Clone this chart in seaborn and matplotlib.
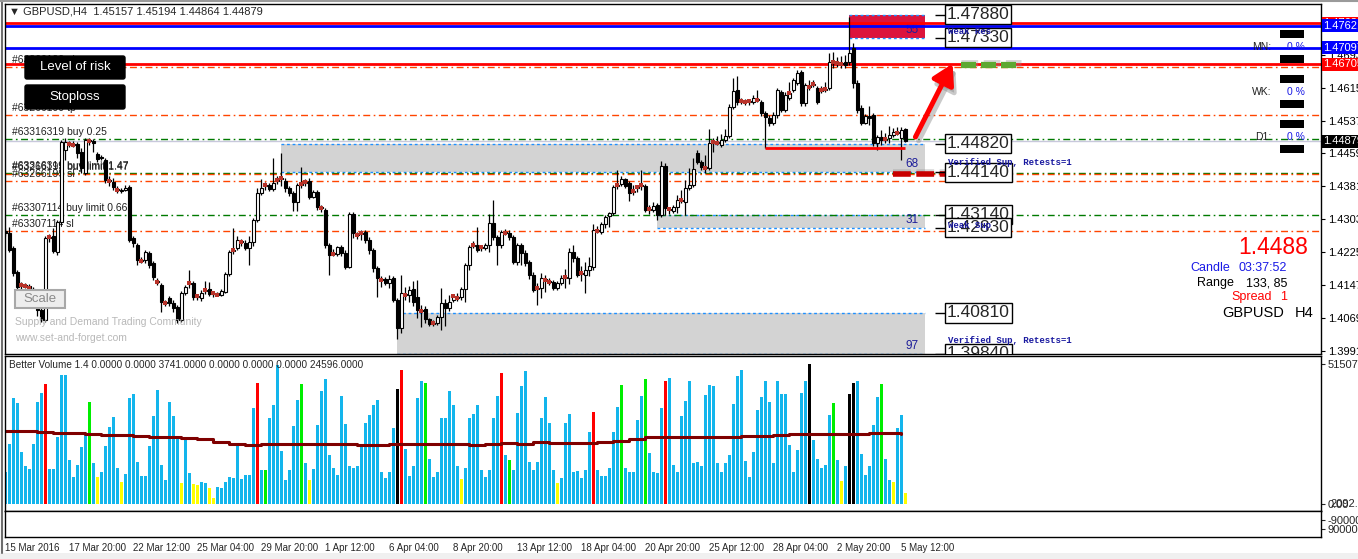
import numpy as np
import pandas as pd
import matplotlib
matplotlib.use("Agg")
import matplotlib.pyplot as plt
import matplotlib.transforms as mtransforms
from matplotlib.patches import Rectangle, FancyBboxPatch
import seaborn as sns

# GBPUSD H4 candles, prices in pips (price * 10000)
opens = [14275, 14271, 14235, 14178, 14145, 14147, 14145, 14138, 14112, 14088,
         14064, 14259, 14264, 14226, 14297, 14467, 14484, 14482, 14482, 14463,
         14413, 14491, 14489, 14458, 14451, 14444, 14396, 14392, 14375, 14370,
         14372, 14380, 14259, 14242, 14207, 14207, 14223, 14200, 14157, 14147,
         14107, 14117, 14105, 14095, 14064, 14128, 14150, 14152, 14119, 14117,
         14133, 14138, 14126, 14128, 14124, 14131, 14173, 14228, 14235, 14252,
         14247, 14235, 14249, 14301, 14365, 14382, 14384, 14375, 14394, 14399,
         14394, 14377, 14365, 14344, 14384, 14389, 14394, 14356, 14368, 14332,
         14325, 14242, 14223, 14221, 14237, 14223, 14190, 14316, 14268, 14268,
         14273, 14254, 14230, 14188, 14162, 14162, 14152, 14164, 14112, 14045,
         14126, 14124, 14138, 14119, 14088, 14090, 14067, 14055, 14057, 14072,
         14105, 14093, 14112, 14119, 14119, 14138, 14195, 14240, 14242, 14235,
         14235, 14242, 14294, 14261, 14242, 14273, 14271, 14261, 14202, 14242,
         14223, 14202, 14171, 14138, 14140, 14162, 14157, 14155, 14140, 14152,
         14164, 14164, 14226, 14211, 14173, 14171, 14183, 14190, 14278, 14273,
         14292, 14311, 14318, 14382, 14387, 14399, 14389, 14368, 14377, 14382,
         14382, 14325, 14325, 14337, 14313, 14429, 14325, 14323, 14332, 14346,
         14344, 14377, 14384, 14460, 14439, 14427, 14425, 14484, 14486, 14479,
         14491, 14500, 14569, 14610, 14581, 14583, 14581, 14581, 14588, 14581,
         14555, 14543, 14531, 14550, 14605, 14562, 14591, 14610, 14626, 14652,
         14579, 14619, 14621, 14614, 14607, 14610, 14614, 14674, 14676, 14674,
         14676, 14676, 14709, 14626, 14567, 14531, 14548, 14550, 14484, 14498,
         14491, 14496, 14503, 14510, 14496, 14516]
highs = [14282, 14285, 14240, 14183, 14155, 14152, 14150, 14143, 14117, 14100,
         14264, 14268, 14282, 14301, 14491, 14496, 14489, 14489, 14486, 14472,
         14496, 14496, 14493, 14463, 14455, 14448, 14406, 14401, 14382, 14377,
         14384, 14384, 14264, 14247, 14214, 14230, 14228, 14204, 14164, 14152,
         14112, 14121, 14112, 14100, 14133, 14147, 14183, 14157, 14124, 14136,
         14157, 14155, 14133, 14131, 14138, 14178, 14230, 14282, 14264, 14256,
         14254, 14264, 14306, 14377, 14399, 14392, 14389, 14448, 14406, 14460,
         14401, 14382, 14370, 14389, 14427, 14399, 14401, 14373, 14373, 14337,
         14330, 14247, 14233, 14240, 14242, 14230, 14320, 14320, 14273, 14278,
         14278, 14261, 14235, 14192, 14169, 14166, 14171, 14169, 14117, 14171,
         14143, 14145, 14157, 14159, 14100, 14098, 14069, 14064, 14076, 14140,
         14114, 14124, 14126, 14128, 14143, 14200, 14242, 14252, 14285, 14242,
         14247, 14316, 14349, 14266, 14278, 14280, 14278, 14266, 14247, 14247,
         14230, 14207, 14178, 14152, 14176, 14171, 14164, 14159, 14157, 14171,
         14185, 14235, 14242, 14216, 14192, 14202, 14214, 14292, 14287, 14297,
         14313, 14320, 14384, 14420, 14406, 14401, 14394, 14384, 14384, 14420,
         14387, 14337, 14344, 14342, 14441, 14437, 14332, 14337, 14361, 14373,
         14396, 14425, 14448, 14467, 14444, 14455, 14517, 14496, 14500, 14505,
         14517, 14576, 14638, 14643, 14591, 14588, 14588, 14598, 14610, 14586,
         14560, 14550, 14557, 14614, 14610, 14605, 14628, 14638, 14657, 14657,
         14626, 14633, 14633, 14619, 14619, 14628, 14697, 14700, 14688, 14690,
         14692, 14783, 14721, 14633, 14574, 14553, 14572, 14555, 14503, 14515,
         14508, 14524, 14519, 14522, 14522, 14519]
lows = [14264, 14226, 14169, 14136, 14138, 14140, 14131, 14105, 14074, 14060,
        14060, 14249, 14223, 14218, 14290, 14444, 14474, 14474, 14448, 14413,
        14408, 14479, 14463, 14439, 14444, 14389, 14382, 14372, 14365, 14365,
        14370, 14249, 14237, 14195, 14200, 14200, 14188, 14159, 14147, 14083,
        14098, 14098, 14083, 14057, 14060, 14124, 14140, 14112, 14112, 14109,
        14126, 14121, 14119, 14121, 14121, 14128, 14169, 14221, 14230, 14240,
        14230, 14195, 14240, 14297, 14361, 14372, 14370, 14370, 14387, 14382,
        14368, 14358, 14323, 14323, 14377, 14382, 14351, 14354, 14325, 14320,
        14235, 14171, 14216, 14216, 14216, 14185, 14188, 14259, 14256, 14254,
        14247, 14221, 14178, 14119, 14143, 14147, 14140, 14107, 14019, 14034,
        14112, 14107, 14098, 14069, 14048, 14057, 14050, 14050, 14052, 14041,
        14050, 14086, 14107, 14109, 14112, 14107, 14183, 14235, 14226, 14228,
        14230, 14226, 14254, 14195, 14235, 14266, 14254, 14197, 14195, 14195,
        14192, 14162, 14131, 14100, 14117, 14131, 14147, 14136, 14136, 14147,
        14140, 14150, 14202, 14166, 14157, 14128, 14169, 14183, 14271, 14268,
        14282, 14285, 14313, 14375, 14382, 14377, 14346, 14361, 14368, 14373,
        14320, 14316, 14320, 14301, 14308, 14313, 14316, 14318, 14318, 14342,
        14313, 14372, 14380, 14434, 14420, 14413, 14420, 14463, 14479, 14474,
        14486, 14496, 14565, 14574, 14576, 14574, 14574, 14576, 14581, 14548,
        14472, 14524, 14527, 14543, 14557, 14557, 14586, 14605, 14621, 14572,
        14572, 14610, 14616, 14576, 14602, 14605, 14610, 14662, 14664, 14662,
        14662, 14669, 14614, 14555, 14527, 14529, 14527, 14477, 14467, 14479,
        14484, 14484, 14498, 14503, 14444, 14486]
closes = [14271, 14230, 14176, 14143, 14147, 14145, 14140, 14112, 14088, 14064,
          14259, 14261, 14228, 14297, 14486, 14486, 14482, 14479, 14460, 14425,
          14491, 14489, 14484, 14446, 14448, 14396, 14394, 14380, 14372, 14372,
          14377, 14254, 14247, 14207, 14204, 14226, 14195, 14166, 14155, 14107,
          14105, 14105, 14093, 14064, 14128, 14143, 14152, 14119, 14121, 14128,
          14136, 14126, 14128, 14124, 14133, 14173, 14226, 14230, 14254, 14249,
          14235, 14249, 14301, 14365, 14377, 14384, 14375, 14389, 14396, 14401,
          14377, 14365, 14344, 14384, 14387, 14392, 14356, 14368, 14332, 14330,
          14242, 14218, 14221, 14237, 14223, 14190, 14316, 14271, 14266, 14271,
          14254, 14230, 14188, 14164, 14159, 14152, 14162, 14112, 14045, 14128,
          14124, 14136, 14107, 14088, 14086, 14067, 14055, 14057, 14072, 14105,
          14093, 14107, 14121, 14117, 14138, 14195, 14237, 14242, 14230, 14237,
          14242, 14294, 14261, 14242, 14273, 14271, 14261, 14202, 14242, 14223,
          14200, 14171, 14136, 14140, 14164, 14159, 14155, 14140, 14152, 14164,
          14166, 14226, 14211, 14171, 14176, 14183, 14192, 14278, 14275, 14292,
          14308, 14318, 14380, 14384, 14399, 14382, 14365, 14370, 14380, 14384,
          14325, 14328, 14335, 14313, 14429, 14330, 14328, 14332, 14349, 14349,
          14377, 14384, 14422, 14439, 14427, 14425, 14484, 14486, 14484, 14491,
          14500, 14569, 14607, 14581, 14583, 14581, 14583, 14591, 14586, 14555,
          14546, 14531, 14550, 14610, 14562, 14598, 14602, 14633, 14650, 14579,
          14621, 14616, 14624, 14581, 14610, 14612, 14676, 14676, 14674, 14671,
          14669, 14697, 14626, 14562, 14531, 14548, 14543, 14484, 14498, 14491,
          14493, 14503, 14510, 14508, 14515, 14488]

# candles carrying the small red marker
dot_bars = [4, 5, 6, 11, 16, 17, 21, 26, 28, 34, 38, 40, 46, 48, 50, 52, 53, 57, 59, 65,
            68, 69, 74, 75, 79, 82, 88, 89, 94, 100, 104, 107, 112, 113, 117, 119, 125,
            133, 135, 136, 140, 144, 148, 153, 157, 158, 159, 161, 166, 169, 175, 177,
            178, 184, 185, 186, 188, 196, 201, 202, 204, 205, 207, 208, 209, 220, 223]

# Better Volume (thousands) and bar colour class
volume = [11.9, 22.0, 39.0, 37.0, 19.3, 13.8, 12.9, 22.2, 37.7, 41.0,
          44.2, 12.9, 12.9, 24.8, 47.3, 47.3, 16.3, 10.0, 14.5, 21.1,
          26.1, 37.6, 14.9, 10.1, 11.9, 21.5, 28.3, 32.1, 13.4, 8.2,
          11.2, 39.0, 40.6, 15.6, 10.4, 10.4, 21.5, 32.2, 41.8, 14.5,
          8.7, 37.4, 32.2, 24.5, 7.7, 24.7, 11.3, 7.5, 7.0, 8.2,
          7.6, 5.8, 2.3, 6.3, 6.0, 8.2, 10.0, 9.5, 22.0, 9.2,
          10.7, 10.7, 35.5, 44.6, 12.5, 12.5, 31.6, 36.3, 51.2, 19.5,
          8.8, 12.5, 28.6, 38.1, 44.2, 15.0, 8.8, 12.9, 28.9, 41.4,
          46.1, 18.1, 13.2, 10.7, 39.6, 29.4, 13.8, 13.2, 13.8, 22.2,
          29.7, 32.8, 36.3, 38.3, 11.9, 9.5, 11.9, 27.9, 42.2, 49.4,
          20.3, 10.4, 14.1, 39.0, 45.1, 44.6, 16.6, 10.1, 11.9, 31.6,
          31.6, 41.7, 36.5, 14.1, 9.2, 13.2, 31.6, 33.1, 36.5, 12.5,
          10.1, 12.5, 31.6, 39.9, 48.3, 18.1, 16.2, 12.5, 33.4, 43.3,
          48.8, 15.4, 12.5, 15.6, 31.6, 39.2, 29.7, 12.5, 7.6, 9.7,
          29.7, 33.1, 11.9, 12.2, 9.7, 12.5, 26.4, 33.7, 12.5, 10.4,
          10.4, 13.2, 26.4, 35.6, 43.6, 13.2, 11.9, 11.9, 31.0, 39.9,
          46.1, 18.7, 11.9, 11.3, 35.3, 45.4, 46.3, 14.4, 11.9, 32.4,
          38.0, 45.1, 15.2, 15.5, 14.0, 40.2, 43.9, 43.5, 15.2, 11.9,
          15.2, 18.1, 36.9, 47.2, 49.4, 15.9, 10.1, 19.3, 34.7, 39.2,
          45.4, 37.5, 15.2, 45.4, 40.6, 40.6, 21.8, 11.6, 19.9, 40.8,
          45.1, 51.5, 23.6, 16.6, 13.2, 14.4, 32.8, 37.1, 16.2, 8.5,
          14.0, 40.6, 44.6, 45.4, 18.4, 10.7, 13.8, 29.1, 39.3, 44.1,
          16.6, 8.8, 8.0, 28.1, 32.8, 4.2]
vol_kind = ("bbbbbbbbbb" "rbbbbbbbbb" "bgbybbbbby" "bbbbbbbbbb" "bbbbybbyyb"
            "byybbbbbbb" "bbbrbgbbbb" "bbbbgbybbb" "bbbbbbbbbb" "bbbbbbbbkr"
            "bbbbbgbbbb" "bbbbybbbbb" "bbbbrbgbbb" "bbbbbbbbyb" "bbbbbbbrbb"
            "bbbbgbbbbb" "gbbbbrbbbb" "bbbbbbbbbb" "bbbbbbbbbb" "bbbbbbbbbb"
            "bkbbbbbgby" "bkkbbbbbbg" "bbybby")
vol_palette = {"b": "#13B5EC", "r": "#FF0000", "g": "#00EE00", "y": "#FFFF00", "k": "#000000"}
# volume average, one value per 4 bars
ma_volume = [26.7, 26.9, 26.4, 26.3, 26.2, 25.9, 25.4, 25.4, 24.9, 24.6,
             24.5, 24.2, 23.8, 22.7, 22.2, 21.8, 22.0, 22.0, 22.1, 22.2,
             22.2, 22.2, 21.8, 21.8, 22.0, 22.2, 22.2, 22.1, 22.0, 21.8,
             22.0, 22.4, 22.2, 22.7, 22.6, 22.4, 22.6, 22.7, 23.0, 24.0,
             24.6, 24.6, 24.8, 24.8, 24.5, 24.6, 25.1, 25.1, 25.4, 25.8,
             25.9, 25.7, 25.9, 25.9, 26.2, 26.3, 25.9]

date_labels = ["15 Mar 2016", "17 Mar 20:00", "22 Mar 12:00", "25 Mar 04:00", "29 Mar 20:00",
               "1 Apr 12:00", "6 Apr 04:00", "8 Apr 20:00", "13 Apr 12:00", "18 Apr 04:00",
               "20 Apr 20:00", "25 Apr 12:00", "28 Apr 04:00", "2 May 20:00", "5 May 12:00"]
price_ticks = [1.39910, 1.40690, 1.41470, 1.42250, 1.43030, 1.43810,
               1.44590, 1.45370, 1.46150, 1.46930, 1.47710]

# supply / demand zones
zone_top = [1.4788, 1.4482, 1.4314, 1.4081]
zone_bottom = [1.4733, 1.4414, 1.4283, 1.3984]
zone_start = [211, 69, 163, 98]
zone_end = [230, 230, 230, 230]
zone_strength = ["55", "68", "31", "97"]
zone_fill = ["#DC143C", "#D3D3D3", "#D3D3D3", "#D3D3D3"]
zone_desc = ["Weak Res", "Verified Sup, Retests=1", "Weak Sup", "Verified Sup, Retests=1"]
level_boxes = [1.47880, 1.47330, 1.44820, 1.44140, 1.43140, 1.42830, 1.40810, 1.39840]

# pending / open order lines
order_levels = [1.46647, 1.45502, 1.44934, 1.44121, 1.44105, 1.43938, 1.43125, 1.42760]
order_kind = ["sl", "tp", "buy", "buy", "sl", "sl", "buy", "sl"]
order_text = ["#63266199 sl", "#63266199 tp", "#63316319 buy 0.25", "#63316319 buy limit 1.47",
              "#63266199 buy limit 1.47", "#63266199 sl", "#63307114 buy limit 0.66", "#63307114 sl"]

# horizontal price lines (solid)
hline_levels = [1.47680, 1.47621, 1.47097, 1.46705]
hline_colors = ["#FF0000", "#0000FF", "#0000FF", "#FF0000"]
bid = 1.44879
stop_low = 1.4472
target_level = 1.4668
stop_level = 1.4410

sns.set_style("white")
plt.rcParams["font.family"] = ["Liberation Sans", "DejaVu Sans"]
plt.rcParams["axes.linewidth"] = 1.0

W, H = 1358, 559
fig = plt.figure(figsize=(W / 100, H / 100), dpi=100)


def frame(l, t, r, b):
    return [l / W, 1 - b / H, (r - l) / W, (b - t) / H]


axp = fig.add_axes(frame(5, 4, 1321, 354))
axv = fig.add_axes(frame(5, 356, 1321, 511), sharex=axp)
axe = fig.add_axes(frame(5, 511, 1321, 537), sharex=axp)

x = np.arange(len(closes))
o = np.array(opens) / 1e4
h = np.array(highs) / 1e4
lo = np.array(lows) / 1e4
c = np.array(closes) / 1e4

# --- price panel ---
for zt, zb, zs, ze, zf in zip(zone_top, zone_bottom, zone_start, zone_end, zone_fill):
    axp.add_patch(Rectangle((zs, zb), ze - zs, zt - zb, facecolor=zf, edgecolor="none", zorder=0.5))
    axp.hlines([zt, zb], zs, ze, colors="#1E90FF", lw=1, linestyles=(0, (2, 2)), zorder=1)

dashdot = (0, (5, 2.5, 1.2, 2.5))
for lv, kind in zip(order_levels, order_kind):
    col = "#007A00" if kind == "buy" else "#FF4500"
    axp.axhline(lv, color=col, lw=1, linestyle=dashdot, zorder=1.2)
for lv, txt in zip(order_levels, order_text):
    axp.annotate(txt, xy=(1.7, lv), xytext=(0, 1.5), textcoords="offset points",
                 fontsize=7.5, color="#202020", va="bottom", ha="left", zorder=1.5)

axp.axhline(bid, color="#C8C8DC", lw=1, zorder=1.1)

axp.vlines(x, lo, h, colors="black", lw=0.9, zorder=3)
axp.bar(x, c - o, bottom=o, width=0.7, color=np.where(c >= o, "white", "black"),
        edgecolor="black", linewidth=0.8, zorder=4)
axp.scatter(x[dot_bars], c[dot_bars], marker="s", s=9, color="#B8332A", linewidths=0, zorder=5)

for lv, col in zip(hline_levels, hline_colors):
    axp.axhline(lv, color=col, lw=2, zorder=2.5)

axp.hlines(stop_low, 190, 225, colors="#FF0000", lw=2, zorder=5)

# projected move
axp.annotate("", xy=(237.5, target_level - 0.0009), xytext=(228.3, 1.4489),
             arrowprops=dict(arrowstyle="-|>,head_length=0.6,head_width=0.35", color="#8A8A8A",
                             lw=3.6, alpha=0.45, mutation_scale=20, shrinkA=0, shrinkB=0), zorder=5)
axp.annotate("", xy=(236.8, target_level + 0.0004), xytext=(227.5, 1.4498),
             arrowprops=dict(arrowstyle="-|>,head_length=0.6,head_width=0.35", color="#FF0000",
                             lw=3.6, mutation_scale=20, shrinkA=0, shrinkB=0), zorder=6)
axp.plot([238.8, 253.8], [target_level + 0.0006] * 2, color="#909090", alpha=0.35, lw=5,
         dashes=(2.4, 0.8), solid_capstyle="butt", zorder=5)
axp.plot([238.8, 253.8], [target_level] * 2, color="#5DA832", lw=4.5,
         dashes=(2.4, 0.8), solid_capstyle="butt", zorder=6)
axp.plot([222, 236.5], [stop_level + 0.0006] * 2, color="#909090", alpha=0.35, lw=4,
         dashes=(3.2, 1.0), solid_capstyle="butt", zorder=5)
axp.plot([222, 236.5], [stop_level] * 2, color="#C80000", lw=4,
         dashes=(3.2, 1.0), solid_capstyle="butt", zorder=6)

# zone labels
desc_offset = [4.5, 7, 1.5, 10]
for zb, ze, st, ds, off in zip(zone_bottom, zone_end, zone_strength, zone_desc, desc_offset):
    axp.annotate(st, xy=(ze - 1.7, zb), xytext=(0, 1.5), textcoords="offset points",
                 ha="right", va="bottom", fontsize=8.5, color="#1E1E9A", zorder=2)
    axp.annotate(ds, xy=(235.6, zb), xytext=(0, off), textcoords="offset points",
                 ha="left", va="center", fontsize=6.5, color="#1A1AA0",
                 family="Liberation Mono", fontweight="bold", zorder=9, annotation_clip=True)
for lv in level_boxes:
    axp.hlines(lv, 232.5, 235.0, colors="black", lw=1, zorder=7)
    axp.text(235.3, lv, f"{lv:.5f}", fontsize=12.5, ha="left", va="center", zorder=8,
             bbox=dict(boxstyle="square,pad=0.12", fc="white", ec="black", lw=1), clip_on=True)

axp.set_ylim(1.39838, 1.48133)
axp.yaxis.tick_right()
axp.set_yticks(price_ticks)
axp.set_yticklabels([f"{t:.5f}" for t in price_ticks])
axp.tick_params(axis="y", labelsize=8, length=3, pad=2, direction="out", colors="black")
axp.tick_params(axis="x", bottom=False, labelbottom=False)

tr = mtransforms.blended_transform_factory(axp.transAxes, axp.transData)
right_tags = [(1.47680, "#FF0000", "white"), (1.47621, "#0000FF", "white"),
              (1.47097, "#0000FF", "white"), (1.46705, "#FF0000", "white"), (bid, "#000000", "white")]
for lv, bg, fg in right_tags:
    axp.text(1.0018, lv, f"{lv:.5f}", transform=tr, fontsize=8, color=fg, va="center", ha="left",
             bbox=dict(boxstyle="square,pad=0.12", fc=bg, ec="none"), clip_on=False, zorder=10)

# --- volume panel ---
vol_df = pd.DataFrame({"bar": x, "volume": np.array(volume) * 1000, "kind": list(vol_kind)})
sns.barplot(data=vol_df, x="bar", y="volume", hue="kind", palette=vol_palette, native_scale=True,
            dodge=False, width=0.75, linewidth=0, saturation=1, errorbar=None, legend=False, ax=axv)
ma_df = pd.DataFrame({"bar": np.arange(0, len(closes), 4), "ma": np.array(ma_volume) * 1000})
sns.lineplot(data=ma_df, x="bar", y="ma", color="#7F0000", lw=2.2, drawstyle="steps-post",
             legend=False, ax=axv)
axv.set_xlabel("")
axv.set_ylabel("")
axv.set_ylim(-2576, 54450)
axv.yaxis.tick_right()
axv.set_yticks([0, 51507.7])
axv.set_yticklabels(["0.00", "51507.7"])
axv.tick_params(axis="y", labelsize=8, length=3, pad=2)
axv.tick_params(axis="x", bottom=False, labelbottom=False)
trv = mtransforms.blended_transform_factory(axv.transAxes, axv.transData)
axv.text(1.0075, 0, "2092.75", transform=trv, fontsize=8, va="center", ha="left", clip_on=False)

# --- empty bottom window + time axis ---
axe.set_ylim(0, 1)
axe.yaxis.tick_right()
axe.set_yticks([0.31, 0.65])
axe.set_yticklabels(["900000", "-900000"])
axe.tick_params(axis="y", labelsize=8, length=3, pad=2)
axe.set_xticks(np.arange(0, len(closes), 16)[:len(date_labels)])
axe.set_xticklabels(date_labels)
axe.tick_params(axis="x", labelsize=7, length=4, pad=0.5)
for lab in axe.get_xticklabels():
    lab.set_ha("left")

axp.set_xlim(-0.1, 328.9)
for a in (axp, axv, axe):
    for s in a.spines.values():
        s.set_color("black")
        s.set_linewidth(1)

# --- overlay in pixel space ---
ov = fig.add_axes([0, 0, 1, 1], zorder=10)
ov.set_xlim(0, W)
ov.set_ylim(H, 0)
ov.axis("off")
ov.patch.set_alpha(0)

ov.text(9, 12, "\u25bc GBPUSD,H4  1.45157 1.45194 1.44864 1.44879", fontsize=8, va="center")
ov.text(9, 365, "Better Volume 1.4 0.0000 0.0000 3741.0000 0.0000 0.0000 0.0000 24596.0000",
        fontsize=7.2, va="center")

for (bx, by, bw, bh, txt) in [(25, 56, 100, 23, "Level of risk"), (25, 85, 100, 24, "Stoploss")]:
    ov.add_patch(FancyBboxPatch((bx, by), bw, bh, boxstyle="round,pad=0,rounding_size=2",
                                fc="black", ec="black"))
    ov.text(bx + bw / 2, by + bh / 2, txt, color="white", fontsize=9.5, ha="center", va="center")
ov.add_patch(Rectangle((15, 290), 50, 18, fc="#EDEDED", ec="#A8A8A8", lw=1.5))
ov.text(40, 299.5, "Scale", color="#8A8A8A", fontsize=9.5, ha="center", va="center")
ov.text(15, 322, "Supply and Demand Trading Community", fontsize=7.5, color="#B8B8B8", va="center")
ov.text(15, 338, "www.set-and-forget.com", fontsize=7.5, color="#B8B8B8", va="center")

for y0 in [30, 55, 75, 100, 120, 145]:
    ov.add_patch(Rectangle((1280, y0), 24, 8, fc="black", ec="none"))
for yy, tf in [(47, "MN:"), (92, "WK:"), (137, "D1:")]:
    ov.text(1271, yy, tf, fontsize=7.5, ha="right", va="center", color="#202020")
    ov.text(1305, yy, "0 %", fontsize=7.5, ha="right", va="center", color="#1A1AE6")

ov.text(1308, 248, "1.4488", fontsize=16.5, color="#FF0000", ha="right", va="center")
ov.text(1190, 268, "Candle", fontsize=9, color="#1A1AE6", ha="left", va="center")
ov.text(1287, 268, "03:37:52", fontsize=9, color="#1A1AE6", ha="right", va="center")
ov.text(1197, 283, "Range", fontsize=9, color="black", ha="left", va="center")
ov.text(1287, 283, "133, 85", fontsize=9, color="black", ha="right", va="center")
ov.text(1231, 297, "Spread", fontsize=9, color="#FF0000", ha="left", va="center")
ov.text(1287, 297, "1", fontsize=9, color="#FF0000", ha="right", va="center")
ov.text(1222, 313, "GBPUSD", fontsize=10.5, color="black", ha="left", va="center")
ov.text(1313, 313, "H4", fontsize=10.5, color="black", ha="right", va="center")

ov.add_patch(Rectangle((0, 553), W, 6, fc="#F0F0F0", ec="none"))
ov.plot([1.5, 1.5], [0, 553], color="#6E6E6E", lw=1.5)
ov.plot([0, W], [1.2, 1.2], color="#9A9A9A", lw=1.5)

fig.savefig("out.png", dpi=100)
